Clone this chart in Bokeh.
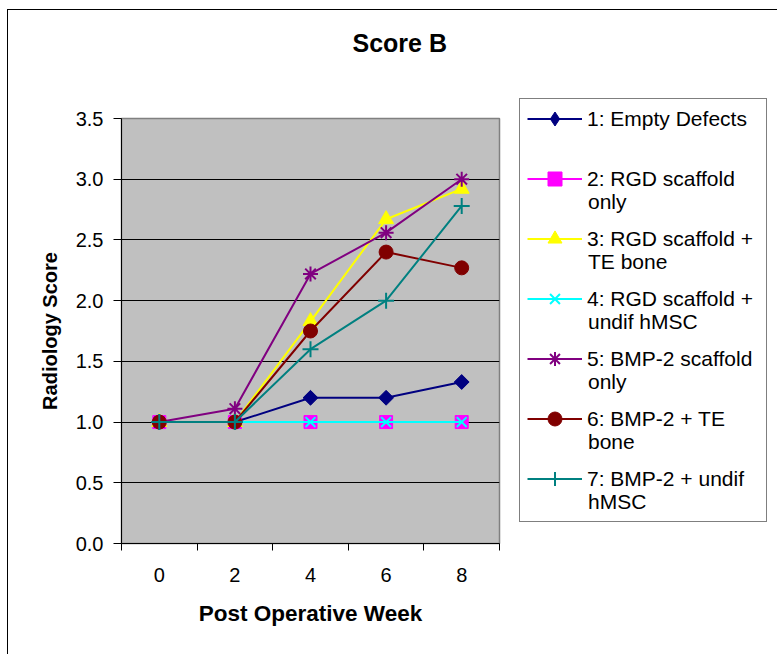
import math

from bokeh.embed import file_html
from bokeh.layouts import row
from bokeh.models import (ColumnDataSource, FixedTicker, Legend, LegendItem,
                          PrintfTickFormatter, Range1d, Title)
from bokeh.plotting import figure
from bokeh.resources import INLINE

# Radiology score per post-operative week, one list per treatment group
weeks = [0, 2, 4, 6, 8]
empty_defects = [1.0, 1.0, 1.2, 1.2, 1.33]
rgd_scaffold_only = [1.0, 1.0, 1.0, 1.0, 1.0]
rgd_scaffold_te_bone = [1.0, 1.0, 1.83, 2.67, 2.92]
rgd_scaffold_hmsc = [1.0, 1.0, 1.0, 1.0, 1.0]
bmp2_scaffold_only = [1.0, 1.11, 2.22, 2.56, 3.0]
bmp2_te_bone = [1.0, 1.0, 1.75, 2.4, 2.27]
bmp2_hmsc = [1.0, 1.0, 1.6, 2.0, 2.78]

# legend text, split into the first and second line of each entry
label_first_lines = [
    "1: Empty Defects",
    "2: RGD scaffold",
    "3: RGD scaffold +",
    "4: RGD scaffold +",
    "5: BMP-2 scaffold",
    "6: BMP-2 + TE",
    "7: BMP-2 + undif",
]
label_second_lines = [" ", "only", "TE bone", "undif hMSC", "only", "bone", "hMSC"]

y_ticks = [0.0, 0.5, 1.0, 1.5, 2.0, 2.5, 3.0, 3.5]
grid_ticks = [0.5, 1.0, 1.5, 2.0, 2.5, 3.0]
week_bounds = [-1, 1, 3, 5, 7, 9]

FONT = "Liberation Sans"

p = figure(
    width=493, height=644,
    x_range=Range1d(-1, 9), y_range=Range1d(0, 3.5),
    output_backend="svg", toolbar_location=None,
    min_border_left=113, min_border_right=2,
    min_border_top=108, min_border_bottom=111,
)
p.frame_align = False
p.title = Title(text="Score B", align="left", offset=231, standoff=10,
                text_font=FONT, text_font_size="25px", text_font_style="bold",
                text_color="black")
# empty band between the title and the plot area
p.add_layout(Title(text=" ", text_font=FONT, text_font_size="20px", standoff=33), "above")

p.background_fill_color = "#C0C0C0"
p.border_fill_color = "white"
p.outline_line_color = "#808080"
p.outline_line_width = 1.5

# x axis: labels centred on each week, tick marks between weeks
xa = p.xaxis[0]
xa.ticker = FixedTicker(ticks=weeks, minor_ticks=week_bounds)
xa.major_tick_out = 0
xa.major_tick_in = 0
xa.minor_tick_out = 7
xa.minor_tick_in = 0
xa.minor_tick_line_color = "black"
xa.axis_line_color = "black"
xa.major_label_text_font = FONT
xa.major_label_text_font_size = "20px"
xa.major_label_text_color = "black"
xa.major_label_standoff = 17
xa.axis_label = "Post Operative Week"
xa.axis_label_text_font = FONT
xa.axis_label_text_font_size = "22.5px"
xa.axis_label_text_font_style = "bold"
xa.axis_label_text_color = "black"
xa.axis_label_standoff = 16

ya = p.yaxis[0]
ya.ticker = FixedTicker(ticks=y_ticks)
ya.formatter = PrintfTickFormatter(format="%.1f")
ya.major_tick_out = 8
ya.major_tick_in = 0
ya.minor_tick_out = 0
ya.minor_tick_in = 0
ya.major_tick_line_color = "black"
ya.axis_line_color = "black"
ya.major_label_text_font = FONT
ya.major_label_text_font_size = "20px"
ya.major_label_text_color = "black"
ya.major_label_standoff = 10
ya.axis_label = "Radiology Score"
ya.axis_label_text_font = FONT
ya.axis_label_text_font_size = "20px"
ya.axis_label_text_font_style = "bold"
ya.axis_label_text_color = "black"
ya.axis_label_standoff = 12

p.xgrid.visible = False
p.ygrid.ticker = FixedTicker(ticks=grid_ticks)
p.ygrid.grid_line_color = "black"
p.ygrid.grid_line_width = 1

# (values, colour, marker in the plot, marker in the legend)
series = [
    (empty_defects, "#000080",
     dict(marker="square", angle=math.pi / 4, size=10.5), dict(marker="diamond")),
    (rgd_scaffold_only, "#FF00FF", dict(marker="square", size=13), None),
    (rgd_scaffold_te_bone, "#FFFF00", dict(marker="triangle", size=15), None),
    (rgd_scaffold_hmsc, "#00FFFF", dict(marker="x", size=14, line_width=2), None),
    (bmp2_scaffold_only, "#800080", dict(marker="asterisk", size=15, line_width=2), None),
    (bmp2_te_bone, "#800000", dict(marker="circle", size=14), None),
    (bmp2_hmsc, "#008080", dict(marker="cross", size=16, line_width=2), None),
]

# Side panel holding the legend; it draws the same sources, but its ranges
# sit outside the data so only the legend is visible there.
q = figure(
    width=276, height=644,
    x_range=Range1d(-1, 9), y_range=Range1d(10, 11),
    output_backend="svg", toolbar_location=None,
    x_axis_location=None, y_axis_location=None,
    min_border_left=0, min_border_right=0, min_border_top=0, min_border_bottom=0,
)
q.frame_align = False
q.grid.visible = False
q.outline_line_color = None
q.background_fill_color = "white"
q.border_fill_color = "white"

first_items = []
for (vals, color, mk, legend_mk), label in zip(series, label_first_lines):
    src = ColumnDataSource(data=dict(week=weeks, score=vals))
    p.line("week", "score", source=src, line_color=color, line_width=2)
    p.scatter("week", "score", source=src, fill_color=color, line_color=color, **mk)
    ln = q.line("week", "score", source=src, line_color=color, line_width=2)
    sc = q.scatter("week", "score", source=src, fill_color=color, line_color=color,
                   **(legend_mk or mk))
    first_items.append(LegendItem(label=label, renderers=[ln, sc]))

# continuation lines of the legend entries carry no glyph of their own
blank = q.line(x=[], y=[], line_alpha=0)
second_items = [LegendItem(label=t, renderers=[blank]) for t in label_second_lines]

text_style = dict(
    label_text_font=FONT, label_text_font_size="21px", label_text_color="black",
    label_standoff=5, margin=0,
)

# boxed legend holding the second lines; a blank title pushes them down a line
legend_box = Legend(
    items=second_items, location=(18, 132),
    padding=4, spacing=30, glyph_width=59, glyph_height=30,
    label_height=25, label_width=174,
    title=" ", title_text_font_size="14px", title_standoff=8,
    border_line_color="black", border_line_width=1,
    background_fill_color="white", background_fill_alpha=1,
    **text_style,
)
legend_main = Legend(
    items=first_items, location=(18, 150),
    padding=8, spacing=25, glyph_width=55, glyph_height=35,
    label_height=25, label_width=170,
    border_line_alpha=0, background_fill_alpha=0,
    **text_style,
)
q.add_layout(legend_box)
q.add_layout(legend_main)

layout = row(p, q)
layout.styles = {
    "margin-left": "7px", "margin-top": "9px",
    "border-left": "1px solid black", "border-top": "1px solid black",
}

open("out.html", "w").write(file_html(layout, INLINE))
